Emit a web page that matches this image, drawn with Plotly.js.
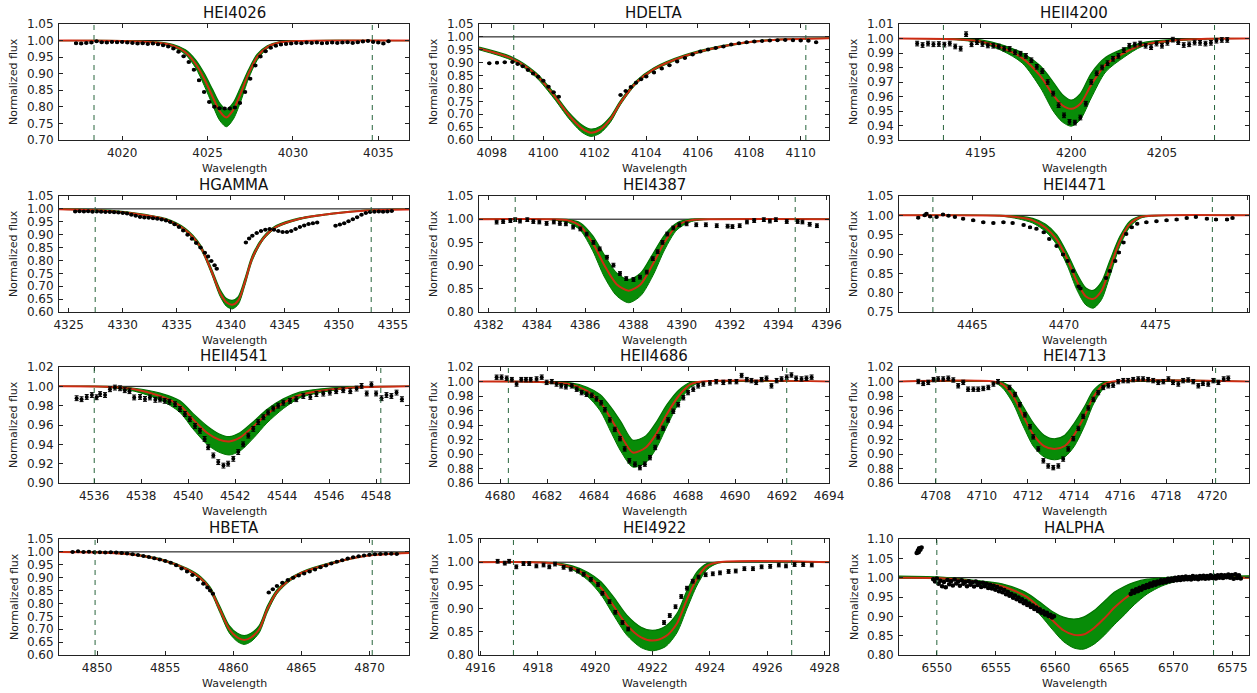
<!DOCTYPE html>
<html>
<head>
<meta charset="utf-8">
<script src="https://cdn.plot.ly/plotly-3.0.1.min.js"></script>
<style>html,body{margin:0;padding:0;background:#fff;}#chart{width:1257px;height:693px;}</style>
</head>
<body>
<div id="chart"></div>
<script>
// ---------------- DATA ----------------
const lineNames = ["HEI4026","HDELTA","HEII4200","HGAMMA","HEI4387","HEI4471","HEII4541","HEII4686","HEI4713","HBETA","HEI4922","HALPHA"];
const xRanges = [[4016.3,4036.8],[4097.5,4111.1],[4190.5,4209.8],[4324.1,4356.5],[4381.6,4396.1],[4461.0,4480.1],[4534.5,4549.4],[4679.1,4694.0],[4706.4,4721.6],[4847.2,4872.9],[4915.95,4928.15],[6546.8,6576.4]];
const yRanges = [[0.70,1.05],[0.60,1.05],[0.93,1.01],[0.60,1.05],[0.80,1.05],[0.75,1.05],[0.90,1.02],[0.86,1.02],[0.86,1.02],[0.60,1.05],[0.80,1.05],[0.80,1.10]];
const xTickStep = [5,2,5,5,2,5,2,2,2,5,2,5];
const yTickStep = [0.05,0.05,0.01,0.05,0.05,0.05,0.02,0.02,0.02,0.05,0.05,0.05];
const windowEdges = [[4018.35,4034.65],[4098.85,4110.2],[4192.95,4207.9],[4327.45,4353.0],[4383.1,4394.7],[4462.85,4478.1],[4536.0,4548.2],[4680.35,4692.2],[4708.0,4720.15],[4849.85,4870.2],[4917.15,4926.85],[6550.0,6573.4]];
const obsErr = [0.002,0.002,0.0016,0.002,0.004,0.002,0.0025,0.003,0.003,0.002,0.004,0.002];

// HEI4026
const hei4026_wl = [4017.3,4017.6,4017.9,4018.2,4018.5,4018.8,4019.1,4019.4,4019.7,4020.0,4020.3,4020.6,4020.9,4021.2,4021.5,4021.8,4022.1,4022.4,4022.7,4023.0,4023.3,4023.6,4023.9,4024.2,4024.5,4024.8,4025.1,4025.4,4025.7,4026.0,4026.3,4026.6,4026.9,4027.2,4027.5,4027.8,4028.1,4028.4,4028.7,4029.0,4029.3,4029.6,4029.9,4030.2,4030.5,4030.8,4031.1,4031.4,4031.7,4032.0,4032.3,4032.6,4032.9,4033.2,4033.5,4033.8,4034.1,4034.4,4034.7,4035.0,4035.3,4035.6];
const hei4026_flux = [0.992,0.991,0.993,0.994,0.998,0.995,0.994,0.996,0.995,0.996,0.994,0.993,0.991,0.992,0.990,0.991,0.989,0.986,0.982,0.976,0.966,0.953,0.935,0.912,0.880,0.845,0.815,0.800,0.796,0.795,0.795,0.798,0.812,0.845,0.885,0.925,0.952,0.968,0.978,0.984,0.988,0.990,0.991,0.993,0.992,0.994,0.993,0.994,0.992,0.993,0.994,0.993,0.994,0.995,0.993,0.995,0.997,0.999,0.996,0.994,0.991,0.998];
const hei4026_modWl = [4016.3,4020,4022,4023,4023.7,4024.3,4024.8,4025.3,4025.7,4026.1,4026.5,4026.9,4027.4,4027.9,4028.5,4029.2,4030.5,4036.8];
const hei4026_best = [1.0,0.999,0.994,0.984,0.965,0.93,0.885,0.83,0.788,0.768,0.79,0.835,0.90,0.95,0.98,0.994,0.999,1.0];
const hei4026_low  = [1.0,0.998,0.992,0.980,0.958,0.918,0.865,0.805,0.760,0.740,0.762,0.81,0.885,0.94,0.976,0.992,0.999,1.0];
const hei4026_high = [1.0,1.0,0.996,0.988,0.972,0.942,0.902,0.852,0.812,0.792,0.812,0.855,0.912,0.958,0.984,0.996,1.0,1.0];

// HDELTA
const hdelta_wl = [4097.9,4098.2,4098.5,4098.8,4099.0,4099.2,4099.4,4099.6,4099.8,4100.0,4100.2,4100.4,4100.6,4103.0,4103.2,4103.4,4103.6,4103.8,4104.0,4104.3,4104.6,4104.9,4105.2,4105.5,4105.8,4106.1,4106.4,4106.7,4107.0,4107.3,4107.6,4107.9,4108.2,4108.5,4108.8,4109.1,4109.4,4109.7,4110.0,4110.3,4110.6];
const hdelta_flux = [0.898,0.900,0.902,0.903,0.895,0.886,0.872,0.858,0.845,0.830,0.807,0.785,0.768,0.775,0.790,0.806,0.822,0.836,0.846,0.862,0.877,0.890,0.905,0.918,0.932,0.943,0.951,0.957,0.963,0.970,0.975,0.979,0.982,0.984,0.986,0.987,0.988,0.987,0.986,0.985,0.979];
const hdelta_modWl = [4097.5,4098.8,4099.7,4100.4,4101.0,4101.5,4101.85,4102.2,4102.6,4103.0,4103.6,4104.3,4105.5,4106.9,4108.2,4109.5,4111.1];
const hdelta_best = [0.955,0.915,0.855,0.775,0.695,0.645,0.628,0.64,0.68,0.745,0.822,0.875,0.926,0.962,0.982,0.991,0.995];
const hdelta_low  = [0.95,0.908,0.845,0.763,0.682,0.630,0.614,0.626,0.668,0.737,0.816,0.870,0.922,0.959,0.980,0.990,0.994];
const hdelta_high = [0.96,0.921,0.862,0.784,0.706,0.658,0.642,0.652,0.690,0.753,0.828,0.880,0.930,0.965,0.984,0.992,0.996];

// HEII4200
const heii4200_wl = [4191.5,4191.8,4192.1,4192.4,4192.7,4193.0,4193.3,4193.6,4193.9,4194.2,4194.5,4194.8,4195.1,4195.4,4195.7,4196.0,4196.3,4196.6,4196.9,4197.2,4197.5,4197.8,4198.1,4198.4,4198.7,4199.0,4199.3,4199.6,4199.9,4200.2,4200.5,4200.8,4201.1,4201.4,4201.7,4202.0,4202.3,4202.6,4202.9,4203.2,4203.5,4203.8,4204.1,4204.4,4204.7,4205.0,4205.3,4205.6,4205.9,4206.2,4206.5,4206.8,4207.1,4207.4,4207.7,4208.0,4208.3,4208.6];
const heii4200_flux = [0.9965,0.9955,0.9965,0.9960,0.9962,0.9958,0.9965,0.9945,0.9930,1.0030,0.9960,0.9975,0.9962,0.9952,0.9950,0.9945,0.9930,0.9928,0.9905,0.9895,0.9880,0.9850,0.9805,0.9775,0.9700,0.9620,0.9540,0.9470,0.9425,0.9420,0.9455,0.9550,0.9700,0.9760,0.9800,0.9830,0.9860,0.9880,0.9920,0.9950,0.9958,0.9965,0.9950,0.9940,0.9965,0.9950,0.9970,0.9992,0.9975,0.9955,0.9960,0.9972,0.9970,0.9965,0.9970,0.9985,0.9990,0.9990];
const heii4200_modWl = [4190.5,4193.5,4195.0,4196.2,4197.3,4198.3,4199.0,4199.5,4200.0,4200.5,4201.1,4201.9,4202.9,4203.9,4205.5,4207.5,4209.8];
const heii4200_best = [1.0,0.9995,0.998,0.9935,0.9865,0.974,0.961,0.954,0.9515,0.955,0.968,0.982,0.990,0.9955,0.9985,0.9998,1.0];
const heii4200_low  = [1.0,0.9992,0.997,0.9915,0.983,0.966,0.950,0.9425,0.9395,0.944,0.959,0.977,0.987,0.9945,0.998,0.9995,1.0];
const heii4200_high = [1.0,0.9998,0.999,0.9955,0.990,0.981,0.970,0.9615,0.9575,0.962,0.976,0.987,0.993,0.997,0.9992,1.0,1.0];

// HGAMMA
const hgamma_wl = [4325.6,4326.0,4326.4,4326.8,4327.2,4327.6,4328.0,4328.4,4328.8,4329.2,4329.6,4330.0,4330.4,4330.8,4331.2,4331.6,4332.0,4332.4,4332.8,4333.2,4333.6,4334.0,4334.4,4334.8,4335.2,4335.6,4336.0,4336.4,4336.8,4337.2,4337.6,4337.9,4338.2,4338.5,4338.7,4341.4,4341.7,4342.0,4342.4,4342.8,4343.2,4343.6,4344.0,4344.4,4344.8,4345.2,4345.6,4346.0,4346.4,4346.8,4347.2,4347.6,4348.0,4349.7,4350.1,4350.5,4350.9,4351.3,4351.7,4352.1,4352.5,4352.9,4353.3,4353.7,4354.1,4354.5,4354.9];
const hgamma_flux = [0.990,0.991,0.990,0.991,0.989,0.990,0.989,0.988,0.988,0.987,0.986,0.984,0.982,0.977,0.973,0.969,0.967,0.966,0.964,0.962,0.959,0.955,0.949,0.940,0.930,0.916,0.900,0.884,0.868,0.850,0.830,0.815,0.798,0.781,0.768,0.870,0.885,0.896,0.906,0.914,0.919,0.922,0.919,0.914,0.910,0.910,0.914,0.922,0.930,0.936,0.941,0.944,0.947,0.935,0.939,0.944,0.952,0.960,0.968,0.977,0.984,0.988,0.989,0.990,0.989,0.990,0.992];
const hgamma_modWl = [4324.1,4328,4331,4334,4335.8,4337.2,4338.2,4339.0,4339.6,4340.15,4340.7,4341.3,4342.0,4343.0,4344.2,4346.4,4349.5,4352.6,4356.5];
const hgamma_best = [0.999,0.994,0.982,0.958,0.918,0.852,0.76,0.675,0.638,0.628,0.645,0.715,0.81,0.885,0.93,0.962,0.982,0.994,0.998];
const hgamma_low  = [0.998,0.992,0.979,0.954,0.912,0.844,0.750,0.662,0.622,0.612,0.630,0.702,0.80,0.879,0.926,0.959,0.980,0.993,0.998];
const hgamma_high = [1.0,0.996,0.985,0.962,0.924,0.860,0.770,0.688,0.652,0.645,0.660,0.728,0.82,0.891,0.935,0.965,0.984,0.995,0.999];

// HEI4387
const hei4387_wl = [4382.33,4382.6,4382.9,4383.1,4383.3,4383.6,4383.85,4384.1,4384.4,4384.7,4384.95,4385.2,4385.5,4385.8,4386.06,4386.34,4386.6,4386.9,4387.17,4387.44,4387.7,4388.0,4388.27,4388.55,4388.8,4389.0,4389.2,4389.4,4389.65,4389.9,4390.2,4390.6,4391.0,4391.45,4391.9,4392.1,4392.4,4392.7,4393.0,4393.4,4393.65,4393.9,4394.35,4394.8,4395.0,4395.3,4395.6];
const hei4387_flux = [0.9937,0.995,0.997,0.999,0.996,0.999,0.995,0.994,0.991,0.994,0.991,0.990,0.983,0.979,0.968,0.950,0.936,0.918,0.901,0.883,0.872,0.870,0.875,0.886,0.915,0.930,0.950,0.968,0.981,0.988,0.990,0.988,0.988,0.986,0.985,0.984,0.986,0.994,0.997,0.999,0.996,0.999,0.995,0.995,0.994,0.989,0.986];
const hei4387_modWl = [4381.6,4384.5,4385.3,4385.8,4386.3,4386.8,4387.3,4387.8,4388.3,4388.8,4389.3,4389.8,4390.4,4391.5,4396.1];
const hei4387_best = [1.0,1.0,0.997,0.985,0.950,0.900,0.860,0.846,0.860,0.903,0.952,0.986,0.998,1.0,1.0];
const hei4387_low  = [1.0,0.999,0.993,0.976,0.933,0.875,0.835,0.820,0.835,0.878,0.935,0.977,0.995,1.0,1.0];
const hei4387_high = [1.0,1.0,0.999,0.992,0.965,0.922,0.884,0.870,0.884,0.925,0.967,0.992,1.0,1.0,1.0];

// HEI4471
const hei4471_wl = [4462.05,4462.4,4462.5,4462.7,4463.05,4463.4,4463.7,4464.05,4464.5,4465.05,4465.6,4466.15,4466.7,4467.2,4467.8,4468.15,4468.5,4468.9,4469.2,4469.6,4469.95,4470.2,4470.5,4470.8,4470.9,4472.3,4472.5,4472.8,4473.0,4473.25,4473.4,4473.7,4474.0,4474.5,4475.05,4475.6,4476.15,4476.7,4477.2,4477.8,4478.3,4478.9,4479.2];
const hei4471_flux = [0.994,1.000,1.004,0.997,0.996,1.002,0.999,0.996,0.991,0.987,0.982,0.980,0.982,0.980,0.975,0.969,0.965,0.956,0.939,0.921,0.899,0.882,0.856,0.816,0.811,0.838,0.856,0.882,0.904,0.930,0.952,0.969,0.978,0.982,0.985,0.987,0.989,0.993,0.996,0.991,0.989,0.989,0.993];
const hei4471_modWl = [4461.0,4466.5,4467.5,4468.3,4469.0,4469.6,4470.2,4470.7,4471.2,4471.6,4472.05,4472.5,4473.05,4473.6,4474.2,4475.5,4480.1];
const hei4471_best = [1.0,0.999,0.995,0.987,0.968,0.938,0.885,0.830,0.790,0.784,0.805,0.862,0.933,0.978,0.996,1.0,1.0];
const hei4471_low  = [1.0,0.998,0.991,0.980,0.958,0.925,0.868,0.808,0.768,0.760,0.782,0.842,0.920,0.970,0.993,0.999,1.0];
const hei4471_high = [1.0,1.0,0.998,0.992,0.977,0.950,0.900,0.850,0.812,0.806,0.828,0.882,0.945,0.985,0.998,1.0,1.0];

// HEII4541
const heii4541_wl = [4535.25,4535.46,4535.68,4535.9,4536.1,4536.25,4536.46,4536.67,4536.88,4537.1,4537.3,4537.5,4537.7,4537.95,4538.16,4538.37,4538.6,4538.8,4539.0,4539.2,4539.44,4539.65,4539.86,4540.07,4540.29,4540.5,4540.7,4540.85,4541.07,4541.28,4541.5,4541.7,4541.92,4542.13,4542.34,4542.56,4542.77,4542.98,4543.2,4543.4,4543.62,4543.83,4544.05,4544.33,4544.6,4544.9,4545.2,4545.46,4545.75,4546.03,4546.3,4546.6,4546.9,4547.17,4547.38,4547.6,4547.8,4548.0,4548.23,4548.44,4548.65,4548.87,4549.1];
const heii4541_flux = [0.9877,0.9867,0.989,0.991,0.9887,0.992,0.991,0.997,0.9987,0.998,0.996,0.995,0.9885,0.989,0.987,0.9885,0.986,0.9864,0.985,0.984,0.9816,0.9765,0.9714,0.966,0.959,0.954,0.9456,0.937,0.9285,0.9216,0.918,0.920,0.925,0.932,0.940,0.949,0.956,0.963,0.968,0.973,0.977,0.980,0.983,0.985,0.9867,0.990,0.989,0.992,0.9925,0.9935,0.995,0.996,0.995,0.9977,1.0004,0.9926,1.002,0.9926,0.9877,0.991,0.990,0.9935,0.9867];
const heii4541_modWl = [4534.5,4536.5,4537.7,4538.8,4539.65,4540.2,4540.8,4541.3,4541.75,4542.2,4542.8,4543.35,4544.05,4544.75,4545.5,4546.9,4549.4];
const heii4541_best = [1.0,0.9995,0.997,0.990,0.980,0.966,0.952,0.945,0.943,0.947,0.959,0.971,0.983,0.991,0.995,0.9985,1.0];
const heii4541_low  = [1.0,0.999,0.995,0.986,0.973,0.956,0.940,0.932,0.929,0.933,0.947,0.962,0.977,0.988,0.993,0.998,1.0];
const heii4541_high = [1.0,1.0,0.998,0.993,0.985,0.972,0.959,0.951,0.948,0.952,0.964,0.976,0.987,0.994,0.997,0.9995,1.0];

// HEII4686
const heii4686_wl = [4679.85,4680.06,4680.28,4680.5,4680.7,4680.9,4681.1,4681.3,4681.55,4681.77,4681.98,4682.2,4682.4,4682.6,4682.8,4683.05,4683.26,4683.47,4683.68,4683.9,4684.1,4684.3,4684.46,4684.67,4684.88,4685.1,4685.3,4685.5,4685.74,4685.95,4686.16,4686.38,4686.6,4686.73,4686.94,4687.15,4687.37,4687.58,4687.8,4688.0,4688.22,4688.43,4688.65,4688.93,4689.2,4689.5,4689.78,4690.06,4690.28,4690.5,4690.7,4690.9,4691.13,4691.34,4691.55,4691.77,4691.98,4692.2,4692.4,4692.6,4692.83,4693.04,4693.26];
const heii4686_flux = [1.0059,1.006,1.0045,1.0026,0.9965,1.0026,1.0026,1.0026,1.0035,1.006,0.9988,0.9998,0.9965,0.994,0.9927,0.994,0.9894,0.9847,0.9824,0.981,0.976,0.9706,0.961,0.947,0.9339,0.9212,0.907,0.8906,0.886,0.8812,0.886,0.895,0.909,0.9236,0.9353,0.947,0.959,0.968,0.9776,0.9847,0.9894,0.994,0.9965,0.998,0.9998,0.9988,0.9998,0.9998,1.0082,1.0026,1.0012,0.9988,1.0026,1.0045,0.994,1.0012,1.0035,1.006,1.009,1.0045,1.0035,1.0045,1.006];
const heii4686_modWl = [4679.1,4682.0,4683.0,4683.7,4684.25,4684.75,4685.15,4685.65,4686.2,4686.65,4687.1,4687.6,4688.1,4688.6,4694.0];
const heii4686_best = [1.0,0.999,0.996,0.987,0.972,0.947,0.925,0.902,0.909,0.928,0.955,0.980,0.996,1.0,1.0];
const heii4686_low  = [1.0,0.998,0.993,0.980,0.960,0.928,0.903,0.882,0.888,0.908,0.938,0.970,0.992,0.999,1.0];
const heii4686_high = [1.0,1.0,0.998,0.992,0.982,0.963,0.944,0.919,0.925,0.944,0.968,0.988,0.999,1.0,1.0];

// HEI4713
const hei4713_wl = [4707.24,4707.45,4707.67,4707.9,4708.1,4708.32,4708.54,4708.76,4708.97,4709.19,4709.4,4709.63,4709.84,4710.06,4710.28,4710.5,4710.7,4711.2,4711.44,4711.65,4711.87,4712.09,4712.23,4712.45,4712.67,4712.88,4713.1,4713.32,4713.53,4713.75,4713.97,4714.19,4714.4,4714.62,4714.84,4715.05,4715.27,4715.49,4715.7,4715.92,4716.14,4716.35,4716.57,4716.79,4717.0,4717.22,4717.44,4717.66,4717.88,4718.1,4718.3,4718.53,4718.74,4718.96,4719.18,4719.4,4719.6,4719.83,4720.05,4720.27,4720.5,4720.7];
const hei4713_flux = [1.0,0.9974,0.9988,1.0026,1.0035,1.0035,1.0045,1.0021,0.9941,0.9988,0.9894,0.9894,0.9894,0.9904,0.9918,0.9965,0.9998,0.9918,0.982,0.968,0.954,0.9376,0.9236,0.907,0.8906,0.8835,0.8812,0.8835,0.893,0.907,0.9212,0.9353,0.9518,0.9635,0.9753,0.9847,0.9918,0.9941,0.995,0.9998,1.0012,1.0012,1.0026,1.0035,1.0035,1.0026,1.0012,0.9988,0.9998,1.0035,0.9988,0.9965,1.0012,1.0021,0.9998,0.9941,0.9974,0.9965,1.0012,0.9988,1.0035,1.0045];
const hei4713_modWl = [4706.4,4710.5,4710.9,4711.35,4711.8,4712.25,4712.7,4713.15,4713.6,4714.0,4714.45,4714.85,4715.3,4715.7,4721.6];
const hei4713_best = [1.0,1.0,0.996,0.980,0.952,0.926,0.911,0.907,0.911,0.926,0.952,0.979,0.996,1.0,1.0];
const hei4713_low  = [1.0,0.999,0.991,0.970,0.938,0.910,0.896,0.892,0.896,0.910,0.938,0.969,0.991,0.999,1.0];
const hei4713_high = [1.0,1.0,0.999,0.989,0.965,0.942,0.926,0.921,0.926,0.942,0.965,0.988,0.999,1.0,1.0];

// HBETA
const hbeta_wl = [4848.2,4848.6,4849.0,4849.4,4849.8,4850.2,4850.6,4851.0,4851.4,4851.8,4852.2,4852.6,4853.0,4853.4,4853.8,4854.2,4854.6,4855.0,4855.4,4855.8,4856.2,4856.6,4857.0,4857.4,4857.8,4858.1,4858.3,4858.5,4862.6,4862.9,4863.2,4863.6,4864.0,4864.4,4864.8,4865.2,4865.6,4866.0,4866.4,4866.8,4867.2,4867.6,4868.0,4868.4,4868.8,4869.2,4869.6,4870.0,4870.4,4870.8,4871.2,4871.6,4872.0];
const hbeta_flux = [1.000,1.002,1.000,1.001,0.999,0.999,0.998,0.999,0.998,0.996,0.994,0.991,0.988,0.984,0.980,0.975,0.970,0.965,0.958,0.948,0.936,0.924,0.910,0.893,0.876,0.862,0.850,0.838,0.842,0.855,0.868,0.880,0.891,0.900,0.908,0.916,0.924,0.932,0.940,0.947,0.955,0.962,0.968,0.974,0.979,0.983,0.986,0.989,0.991,0.992,0.993,0.993,0.992];
const hbeta_modWl = [4847.2,4850.0,4852.6,4855.0,4856.6,4857.6,4858.3,4859.0,4859.7,4860.3,4860.8,4861.3,4861.9,4862.5,4863.2,4864.0,4865.0,4867.3,4869.8,4872.9];
const hbeta_best = [1.0,0.998,0.990,0.965,0.932,0.898,0.855,0.778,0.700,0.668,0.658,0.668,0.700,0.778,0.845,0.886,0.918,0.957,0.985,0.996];
const hbeta_low  = [0.999,0.997,0.988,0.962,0.928,0.892,0.847,0.766,0.686,0.652,0.641,0.652,0.686,0.766,0.837,0.880,0.914,0.954,0.984,0.995];
const hbeta_high = [1.0,0.999,0.992,0.968,0.936,0.904,0.863,0.790,0.714,0.684,0.675,0.684,0.714,0.790,0.853,0.892,0.922,0.960,0.987,0.997];

// HEI4922
const hei4922_wl = [4916.6,4916.85,4917.0,4917.25,4917.5,4917.7,4917.95,4918.2,4918.4,4918.6,4918.9,4919.15,4919.4,4919.6,4919.85,4920.1,4920.25,4920.5,4920.7,4920.95,4921.15,4922.4,4922.6,4922.8,4923.0,4923.2,4923.4,4923.6,4923.85,4924.1,4924.35,4924.65,4924.9,4925.2,4925.5,4925.8,4926.1,4926.4,4926.65,4926.95,4927.25,4927.55];
const hei4922_flux = [1.002,0.998,1.002,0.990,0.997,0.997,0.992,0.994,0.990,0.996,0.989,0.985,0.981,0.974,0.963,0.952,0.933,0.915,0.892,0.870,0.856,0.870,0.885,0.904,0.926,0.944,0.959,0.968,0.973,0.975,0.977,0.980,0.981,0.986,0.986,0.990,0.991,0.994,0.992,0.995,0.995,0.994];
const hei4922_modWl = [4915.95,4918.5,4919.2,4919.75,4920.2,4920.65,4921.1,4921.6,4922.0,4922.45,4922.85,4923.2,4923.55,4923.9,4924.3,4928.15];
const hei4922_best = [1.0,0.998,0.988,0.970,0.945,0.905,0.865,0.838,0.831,0.840,0.868,0.920,0.965,0.992,1.0,1.0];
const hei4922_low  = [1.0,0.997,0.984,0.961,0.930,0.885,0.843,0.816,0.809,0.818,0.848,0.900,0.950,0.984,0.998,1.0];
const hei4922_high = [1.0,0.999,0.992,0.978,0.958,0.924,0.886,0.860,0.853,0.862,0.889,0.939,0.979,0.997,1.0,1.0];

// HALPHA
const halpha_wl = [6548.3,6548.4,6548.45,6548.5,6548.6,6548.7,
  6549.70,6549.85,6550.00,6550.15,6550.30,6550.45,6550.60,6550.75,6550.90,6551.05,6551.20,6551.35,6551.50,6551.65,6551.80,6551.95,6552.10,6552.25,6552.40,6552.55,6552.70,6552.85,6553.00,6553.15,6553.30,6553.45,6553.60,6553.75,6553.90,6554.05,6554.20,6554.35,6554.50,6554.65,6554.80,6554.95,6555.10,6555.25,6555.40,6555.55,6555.70,6555.85,6556.00,6556.15,6556.30,6556.45,6556.60,6556.75,6556.90,6557.05,6557.20,6557.35,6557.50,6557.65,6557.80,6557.95,6558.10,6558.25,6558.40,6558.55,6558.70,6558.85,6559.00,6559.15,6559.30,6559.45,6559.60,6559.75,6559.90,
  6566.40,6566.55,6566.70,6566.85,6567.00,6567.15,6567.30,6567.45,6567.60,6567.75,6567.90,6568.05,6568.20,6568.35,6568.50,6568.65,6568.80,6568.95,6569.10,6569.25,6569.40,6569.55,6569.70,6569.85,6570.00,6570.15,6570.30,6570.45,6570.60,6570.75,6570.90,6571.05,6571.20,6571.35,6571.50,6571.65,6571.80,6571.95,6572.10,6572.25,6572.40,6572.55,6572.70,6572.85,6573.00,6573.15,6573.30,6573.45,6573.60,6573.75,6573.90,6574.05,6574.20,6574.35,6574.50,6574.65,6574.80,6574.95,6575.10,6575.25,6575.40,6575.55,6575.70];
const halpha_flux = [1.064,1.070,1.066,1.076,1.072,1.078,
  0.996,0.990,0.998,0.984,0.992,0.978,0.989,0.975,0.994,0.983,0.991,0.980,0.995,0.985,0.990,0.979,0.993,0.984,0.989,0.978,0.991,0.982,0.988,0.977,0.990,0.981,0.986,0.976,0.987,0.978,0.984,0.973,0.982,0.972,0.979,0.969,0.976,0.965,0.972,0.962,0.968,0.957,0.963,0.953,0.958,0.948,0.954,0.944,0.949,0.939,0.944,0.934,0.939,0.929,0.933,0.924,0.928,0.919,0.923,0.914,0.918,0.909,0.913,0.905,0.909,0.901,0.904,0.897,0.900,
  0.958,0.966,0.961,0.970,0.965,0.974,0.969,0.978,0.973,0.981,0.976,0.985,0.979,0.988,0.982,0.990,0.985,0.993,0.987,0.994,0.989,0.997,0.991,0.998,0.992,1.000,0.993,1.001,0.994,1.002,0.995,1.003,0.996,1.002,0.995,1.004,0.997,1.003,0.996,1.004,0.998,1.005,0.997,1.004,0.998,1.006,0.999,1.005,0.998,1.006,1.000,1.007,0.999,1.006,1.001,1.008,1.000,1.007,0.997,1.009,0.999,1.006,0.998];
const halpha_modWl = [6546.8,6550.0,6553.0,6555.5,6557.5,6558.7,6559.8,6560.7,6561.6,6562.4,6563.3,6564.2,6565.0,6565.9,6566.7,6567.8,6569.0,6570.2,6572.0,6576.4];
const halpha_best = [1.0,0.999,0.991,0.978,0.952,0.922,0.889,0.864,0.852,0.853,0.870,0.896,0.922,0.946,0.964,0.981,0.992,0.998,1.0,1.0];
const halpha_low  = [0.998,0.997,0.987,0.970,0.940,0.905,0.865,0.835,0.818,0.815,0.828,0.852,0.878,0.905,0.930,0.958,0.978,0.990,0.998,0.999];
const halpha_high = [1.004,1.002,0.994,0.984,0.962,0.937,0.912,0.898,0.893,0.898,0.915,0.940,0.962,0.978,0.988,0.996,0.999,1.002,1.003,1.005];

// ---------------- BUILD ----------------
const panels = [
  [hei4026_wl,hei4026_flux,hei4026_modWl,hei4026_best,hei4026_low,hei4026_high],
  [hdelta_wl,hdelta_flux,hdelta_modWl,hdelta_best,hdelta_low,hdelta_high],
  [heii4200_wl,heii4200_flux,heii4200_modWl,heii4200_best,heii4200_low,heii4200_high],
  [hgamma_wl,hgamma_flux,hgamma_modWl,hgamma_best,hgamma_low,hgamma_high],
  [hei4387_wl,hei4387_flux,hei4387_modWl,hei4387_best,hei4387_low,hei4387_high],
  [hei4471_wl,hei4471_flux,hei4471_modWl,hei4471_best,hei4471_low,hei4471_high],
  [heii4541_wl,heii4541_flux,heii4541_modWl,heii4541_best,heii4541_low,heii4541_high],
  [heii4686_wl,heii4686_flux,heii4686_modWl,heii4686_best,heii4686_low,heii4686_high],
  [hei4713_wl,hei4713_flux,hei4713_modWl,hei4713_best,hei4713_low,hei4713_high],
  [hbeta_wl,hbeta_flux,hbeta_modWl,hbeta_best,hbeta_low,hbeta_high],
  [hei4922_wl,hei4922_flux,hei4922_modWl,hei4922_best,hei4922_low,hei4922_high],
  [halpha_wl,halpha_flux,halpha_modWl,halpha_best,halpha_low,halpha_high]
];

const W = 1257, H = 693;
const colLeft = [59, 479, 899], panelW = 350;
const rowTop = [24, 196, 367, 539], panelH = 116;
const FONT = 'DejaVu Sans, Bitstream Vera Sans, sans-serif';
const AX = '#222';
const GREEN_FILL = 'rgb(8,140,8)';
const GREEN_EDGE = 'rgb(0,115,0)';
const RED = 'rgba(225,35,20,0.9)';

const traces = [];
const layout = {
  width: W, height: H, margin: {l:0, r:0, t:0, b:0},
  paper_bgcolor: '#fff', plot_bgcolor: '#fff',
  showlegend: false, shapes: [], annotations: [],
  font: {family: FONT, color: AX}
};

panels.forEach((p, i) => {
  const n = i + 1;
  const xa = n === 1 ? 'x' : 'x' + n;
  const ya = n === 1 ? 'y' : 'y' + n;
  const xKey = n === 1 ? 'xaxis' : 'xaxis' + n;
  const yKey = n === 1 ? 'yaxis' : 'yaxis' + n;
  const c = i % 3, r = Math.floor(i / 3);
  const L = colLeft[c], T = rowTop[r];
  const xd = [L / W, (L + panelW) / W];
  const yd = [(H - T - panelH) / H, (H - T) / H];
  const [wl, flux, mwl, best, low, high] = p;
  const dense = (i === 11);

  traces.push({x: mwl, y: low, xaxis: xa, yaxis: ya, type: 'scatter', mode: 'lines',
    line: {color: GREEN_EDGE, width: 1, shape: 'spline', smoothing: 0.8}, hoverinfo: 'skip'});
  traces.push({x: mwl, y: high, xaxis: xa, yaxis: ya, type: 'scatter', mode: 'lines', fill: 'tonexty',
    fillcolor: GREEN_FILL, line: {color: GREEN_EDGE, width: 1.2, shape: 'spline', smoothing: 0.8}, hoverinfo: 'skip'});
  traces.push({x: mwl, y: best, xaxis: xa, yaxis: ya, type: 'scatter', mode: 'lines',
    line: {color: RED, width: 2, shape: 'spline', smoothing: 0.8}});
  traces.push({x: wl, y: flux, xaxis: xa, yaxis: ya, type: 'scatter', mode: 'markers',
    marker: {color: '#000', size: dense ? 4.5 : 4},
    error_y: {type: 'constant', value: obsErr[i], color: '#000', thickness: 1, width: 2}});

  const common = {showline: true, linecolor: AX, linewidth: 1, mirror: 'ticks', ticks: 'inside',
    ticklen: 4, tickwidth: 1, tickcolor: AX, showgrid: false, zeroline: false,
    tickfont: {family: FONT, size: 12, color: AX}, fixedrange: true};
  layout[xKey] = Object.assign({}, common, {domain: xd, anchor: ya, range: xRanges[i],
    tick0: 0, dtick: xTickStep[i], ticklabelstandoff: 2});
  const yr = yRanges[i];
  layout[yKey] = Object.assign({}, common, {domain: yd, anchor: xa, range: [yr[0] - 1e-6, yr[1] + 1e-6],
    tick0: 0, dtick: yTickStep[i], tickformat: '.2f', ticklabelstandoff: 2});

  layout.shapes.push({type: 'line', layer: 'below', xref: xa + ' domain', yref: ya,
    x0: 0, x1: 1, y0: 1, y1: 1, line: {color: '#000', width: 1}});
  windowEdges[i].forEach(xv => layout.shapes.push({type: 'line', layer: 'above', xref: xa, yref: ya + ' domain',
    x0: xv, x1: xv, y0: 0, y1: 1, line: {color: 'rgb(40,100,60)', width: 1, dash: '5px,5px'}}));

  const cx = (L + panelW / 2) / W;
  layout.annotations.push({text: lineNames[i], xref: 'paper', yref: 'paper', x: cx, y: (H - (T - 11)) / H,
    xanchor: 'center', yanchor: 'middle', showarrow: false, font: {family: FONT, size: 15, color: '#111'}});
  layout.annotations.push({text: 'Wavelength', xref: 'paper', yref: 'paper', x: cx, y: (H - (T + panelH + 28)) / H,
    xanchor: 'center', yanchor: 'middle', showarrow: false, font: {family: FONT, size: 11, color: AX}});
  layout.annotations.push({text: 'Normalized flux', xref: 'paper', yref: 'paper', x: (L - 45) / W, y: (H - (T + panelH / 2)) / H,
    xanchor: 'center', yanchor: 'middle', textangle: -90, showarrow: false, font: {family: FONT, size: 11, color: AX}});
});

Plotly.newPlot('chart', traces, layout, {staticPlot: true, displayModeBar: false});
</script>
</body>
</html>
